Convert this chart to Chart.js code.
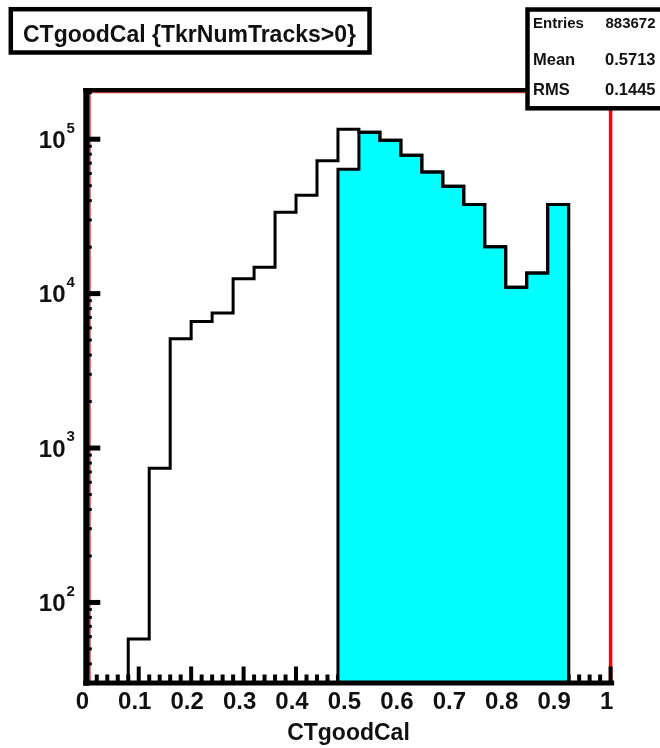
<!DOCTYPE html>
<html>
<head>
<meta charset="utf-8">
<title>CTgoodCal</title>
<script src="https://cdn.jsdelivr.net/npm/chart.js@4.4.1/dist/chart.umd.min.js"></script>
<style>
  html, body { margin: 0; padding: 0; background: #fff; }
</style>
</head>
<body>
<canvas id="ctgoodcalChart" width="660" height="748"></canvas>
<script>
// histogram bins: edges every 0.04 (26 edges -> 25 bins)
const binEdges = [0, 0.04, 0.08, 0.12, 0.16, 0.2, 0.24, 0.28, 0.32, 0.36, 0.4, 0.44, 0.48,
  0.52, 0.56, 0.6, 0.64, 0.68, 0.72, 0.76, 0.8, 0.84, 0.88, 0.92, 0.96, 1];

// all events (black outline)
const allCounts = [0, 0, 58, 740, 5100, 6600, 7500, 12500, 14800, 33600, 43300, 72600, 115900,
  110800, 98400, 78700, 61300, 49600, 37700, 20100, 11000, 13600, 37700, 0, 0];

// events with TkrNumTracks>0 (cyan)
const cutCounts = [0, 0, 0, 0, 0, 0, 0, 0, 0, 0, 0, 0, 63900,
  110800, 98400, 78700, 61300, 49600, 37700, 20100, 11000, 13600, 37700, 0, 0];

const xTickValues = [0, 0.1, 0.2, 0.3, 0.4, 0.5, 0.6, 0.7, 0.8, 0.9, 1];
const xTickLabels = ['0', '0.1', '0.2', '0.3', '0.4', '0.5', '0.6', '0.7', '0.8', '0.9', '1'];
const yTickValues = [100, 1000, 10000, 100000];
const yTickExponents = ['2', '3', '4', '5'];

const statNames = ['Entries', 'Mean', 'RMS'];
const statValues = ['883672', '0.5713', '0.1445'];

const titleText = 'CTgoodCal {TkrNumTracks>0}';
const xAxisTitle = 'CTgoodCal';

const Y_MIN = 30.3;
const Y_MAX = 208300;
const FONT = '"Liberation Sans", Arial, Helvetica, sans-serif';

// empty bins sit on the bottom of the log axis, like ROOT draws them
function toSteps(counts) {
  const pts = counts.map((c, i) => ({ x: binEdges[i], y: c > 0 ? c : Y_MIN }));
  pts.push({ x: binEdges[binEdges.length - 1], y: pts[pts.length - 1].y });
  return pts;
}

function seg(ctx, x1, y1, x2, y2) {
  ctx.beginPath();
  ctx.moveTo(x1, y1);
  ctx.lineTo(x2, y2);
  ctx.stroke();
}

const rootFrame = {
  id: 'rootFrame',
  beforeDatasetsDraw(chart) {
    const { ctx, chartArea: a, scales: { x, y } } = chart;
    ctx.save();
    // red frame
    ctx.strokeStyle = '#b83232';
    ctx.lineWidth = 1.5;
    seg(ctx, a.left + 3.6, a.top, a.left + 3.6, a.bottom);
    seg(ctx, a.left, a.top + 2.6, a.right, a.top + 2.6);
    ctx.strokeStyle = '#ff0000';
    ctx.lineWidth = 3.5;
    seg(ctx, a.right, a.top, a.right, a.bottom);

    // x ticks (pointing up into the pad)
    ctx.strokeStyle = '#000';
    ctx.lineWidth = 4;
    for (let i = 1; i <= 50; i++) {
      const px = x.getPixelForValue(i / 50);
      const len = i % 5 === 0 ? 16 : 8;
      seg(ctx, px, a.bottom, px, a.bottom - len);
    }
    // y minor ticks
    ctx.lineWidth = 3;
    for (let d = 1; d <= 5; d++) {
      for (let m = 2; m <= 9; m++) {
        const v = m * Math.pow(10, d);
        if (v < Y_MIN || v > Y_MAX) continue;
        const py = y.getPixelForValue(v);
        seg(ctx, a.left, py, a.left + 5.5, py);
      }
    }
    // y major ticks
    ctx.lineWidth = 5;
    yTickValues.forEach(v => {
      const py = y.getPixelForValue(v);
      seg(ctx, a.left, py, a.left + 14, py);
    });
    ctx.restore();
  },
  afterDraw(chart) {
    const { ctx, chartArea: a, scales: { y } } = chart;
    ctx.save();
    // black axes
    ctx.strokeStyle = '#000';
    ctx.lineWidth = 6;
    seg(ctx, a.left, a.top - 2, a.left, a.bottom + 3.2);
    ctx.lineWidth = 4;
    seg(ctx, a.left - 3, a.top, 530, a.top);
    ctx.lineWidth = 5;
    seg(ctx, a.left - 3, a.bottom + 0.5, a.right + 3.5, a.bottom + 0.5);

    // y tick labels 10^n
    ctx.fillStyle = '#111';
    yTickValues.forEach((v, i) => {
      const py = y.getPixelForValue(v);
      ctx.textAlign = 'right';
      ctx.textBaseline = 'alphabetic';
      ctx.font = 'bold 24px ' + FONT;
      ctx.fillText('10', 65.5, py + 8.6);
      ctx.textAlign = 'left';
      ctx.font = 'bold 15px ' + FONT;
      ctx.fillText(yTickExponents[i], 66.5, py - 6.6);
    });

    // title box
    ctx.fillStyle = '#fff';
    ctx.fillRect(10.8, 9.2, 358.7, 43.3);
    ctx.lineWidth = 4.5;
    ctx.strokeStyle = '#000';
    ctx.strokeRect(10.8, 9.2, 358.7, 43.3);
    ctx.fillStyle = '#111';
    ctx.font = 'bold 23px ' + FONT;
    ctx.textAlign = 'left';
    ctx.textBaseline = 'alphabetic';
    ctx.fillText(titleText, 23, 41.7);

    // stats box
    ctx.fillStyle = '#fff';
    ctx.fillRect(527.5, 9.5, 140, 98.8);
    ctx.strokeRect(527.5, 9.5, 140, 98.8);
    ctx.fillStyle = '#111';
    const rowsY = [28.3, 65, 95];
    const rowSize = [15, 16.5, 16.5];
    statNames.forEach((n, i) => {
      ctx.font = 'bold ' + rowSize[i] + 'px ' + FONT;
      ctx.textAlign = 'left';
      ctx.fillText(n, 533, rowsY[i]);
      ctx.textAlign = 'right';
      ctx.fillText(statValues[i], 655.5, rowsY[i]);
    });
    ctx.restore();
  }
};

new Chart(document.getElementById('ctgoodcalChart'), {
  type: 'line',
  data: {
    datasets: [
      {
        label: 'all',
        data: toSteps(allCounts),
        stepped: true,
        borderColor: '#000',
        borderWidth: 3,
        borderJoinStyle: 'miter',
        pointRadius: 0,
        fill: false
      },
      {
        label: 'TkrNumTracks>0',
        data: toSteps(cutCounts),
        stepped: true,
        borderColor: '#000',
        borderWidth: 3,
        borderJoinStyle: 'miter',
        backgroundColor: '#00ffff',
        pointRadius: 0,
        fill: 'start'
      }
    ]
  },
  options: {
    responsive: false,
    animation: false,
    events: [],
    layout: { padding: { left: 0, top: 90, right: 49.4, bottom: 0 } },
    plugins: {
      legend: { display: false },
      tooltip: { enabled: false }
    },
    scales: {
      x: {
        type: 'linear',
        min: 0,
        max: 1,
        grid: { display: false, drawTicks: false },
        border: { display: false },
        afterBuildTicks: s => { s.ticks = xTickValues.map(v => ({ value: v })); },
        afterFit: s => { s.height = 65.5; },
        ticks: {
          autoSkip: false,
          maxRotation: 0,
          padding: 7.5,
          labelOffset: -4,
          color: '#111',
          font: { family: FONT, size: 24, weight: 'bold', lineHeight: 1 },
          callback: (v, i) => xTickLabels[i]
        },
        title: {
          display: true,
          text: xAxisTitle,
          color: '#111',
          font: { family: FONT, size: 23, weight: 'bold' },
          padding: { top: 0, bottom: 1 }
        }
      },
      y: {
        type: 'logarithmic',
        min: Y_MIN,
        max: Y_MAX,
        grid: { display: false, drawTicks: false },
        border: { display: false },
        ticks: { display: false },
        afterFit: s => { s.width = 86.3; }
      }
    }
  },
  plugins: [rootFrame]
});
</script>
</body>
</html>
